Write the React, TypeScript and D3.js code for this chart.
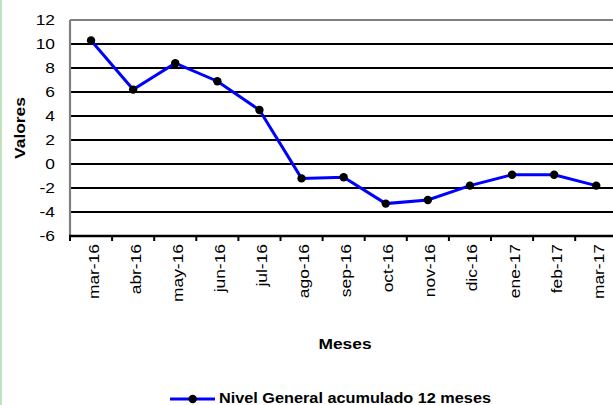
import React from "react";
import * as d3 from "d3";

const months = ["mar-16","abr-16","may-16","jun-16","jul-16","ago-16","sep-16","oct-16","nov-16","dic-16","ene-17","feb-17","mar-17"];
const values = [10.3, 6.2, 8.4, 6.9, 4.5, -1.2, -1.1, -3.3, -3.0, -1.8, -0.9, -0.9, -1.8];
const yTicks = [-6, -4, -2, 0, 2, 4, 6, 8, 10, 12];
const seriesName = "Nivel General acumulado 12 meses";

const W = 613, H = 405;
const L = 70, T = 20, B = 236;
const band = 42.1;
const SX = 1.16;

export default function App() {
  const x = d3.scaleBand<string>().domain(months).range([L, L + band * months.length]);
  const y = d3.scaleLinear().domain([-6, 12]).range([B, T]);
  const cx = (m: string) => (x(m) as number) + x.bandwidth() / 2;
  const line = d3.line<number>().x((_, i) => cx(months[i])).y((v) => y(v));
  const font = "Liberation Sans, Arial, sans-serif";
  return (
    <svg width={W} height={H} style={{ position: "absolute", left: 0, top: 0 }} fontFamily={font}>
      <rect x={0} y={0} width={W} height={H} fill="#fff" />
      <line x1={1} x2={1} y1={0} y2={H} stroke="#bfe3bf" strokeWidth={2} />
      {yTicks.filter((t) => t !== -6 && t !== 12).map((t) => (
        <line key={t} x1={L} x2={W} y1={y(t)} y2={y(t)} stroke="#000" strokeWidth={2.2} />
      ))}
      <line x1={L} x2={W} y1={T} y2={T} stroke="#808080" strokeWidth={2.2} />
      <line x1={L} x2={L} y1={T} y2={B} stroke="#808080" strokeWidth={2.2} />
      <line x1={L - 1} x2={W} y1={B} y2={B} stroke="#000" strokeWidth={2.5} />
      {months.map((m, i) => (
        <line key={m} x1={L + band * i} x2={L + band * i} y1={B} y2={B + 5} stroke="#000" strokeWidth={2} />
      ))}
      {yTicks.map((t) => (
        <text key={t} transform={`translate(55,${y(t)}) scale(${SX},1)`} dy="0.36em" textAnchor="end" fontSize={15} fill="#000">{t}</text>
      ))}
      {months.map((m) => (
        <text key={m} transform={`translate(${cx(m) + 7.5},${B + 8}) rotate(-90) scale(${SX},1)`} textAnchor="end" fontSize={15} fill="#000">{m}</text>
      ))}
      <text transform={`translate(24.5,128) rotate(-90) scale(${SX},1)`} textAnchor="middle" fontSize={15} fontWeight="bold">Valores</text>
      <text transform={`translate(345,348.5) scale(${SX},1)`} textAnchor="middle" fontSize={15} fontWeight="bold">Meses</text>
      <path d={line(values) || ""} fill="none" stroke="#0000ff" strokeWidth={3} />
      {values.map((v, i) => (
        <circle key={i} cx={cx(months[i])} cy={y(v)} r={4.2} fill="#000" />
      ))}
      <line x1={170} x2={215} y1={399} y2={399} stroke="#0000ff" strokeWidth={3} />
      <circle cx={192.7} cy={399} r={4.2} fill="#000" />
      <text x={219} y={402.5} fontSize={15} fontWeight="bold" textLength={272} lengthAdjust="spacingAndGlyphs">{seriesName}</text>
    </svg>
  );
}
